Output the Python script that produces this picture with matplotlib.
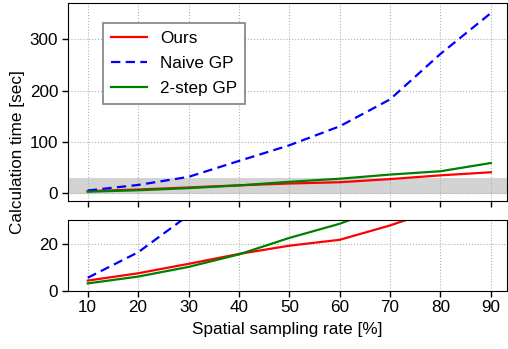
import numpy as np
import matplotlib
matplotlib.use("Agg")
import matplotlib.pyplot as plt

plt.rcParams['font.family'] = ['Liberation Sans', 'DejaVu Sans']
plt.rcParams['font.size'] = 12.3

# sampling rate [%]
rates = [10, 20, 30, 40, 50, 60, 70, 80, 90]
# calculation time [sec]
ours = [4.3, 7.4, 11.4, 15.6, 19.1, 21.6, 27.7, 35.0, 41.0]
naive_gp = [5.5, 16.3, 32.0, 63.0, 93.5, 130.5, 183.0, 271.5, 351.0]
two_step_gp = [3.1, 6.0, 10.1, 15.4, 22.4, 28.4, 36.5, 43.0, 59.0]

fig = plt.figure(figsize=(5.08, 3.49), dpi=100)
ax_top = fig.add_axes([0.134, 0.424, 0.864, 0.5665])
ax_bot = fig.add_axes([0.134, 0.167, 0.864, 0.2026])

for ax in (ax_top, ax_bot):
    ax.plot(rates, ours, color='red', lw=1.6, label='Ours')
    ax.plot(rates, naive_gp, color='blue', lw=1.6, dashes=(4.2, 2.4), label='Naive GP')
    ax.plot(rates, two_step_gp, color='green', lw=1.6, label='2-step GP')
    ax.set_xlim(6.1, 93.2)
    ax.set_xticks(rates)
    ax.grid(True, color='#b0b0b0', linestyle=':', linewidth=0.8)
    ax.tick_params(direction='out', length=4, width=1, pad=3)

# zoomed region highlighted in the upper panel
ax_top.axhspan(-2, 30, color='#d3d3d3', zorder=0, lw=0)
ax_top.set_ylim(-15, 370)
ax_top.set_yticks([0, 100, 200, 300])
ax_top.tick_params(axis='x', labelbottom=False)
leg = ax_top.legend(loc='upper left', bbox_to_anchor=(0.080, 0.899), fancybox=False,
                    edgecolor='#808080', framealpha=1, handlelength=2.1,
                    handletextpad=0.8, borderpad=0.45, labelspacing=0.6,
                    borderaxespad=0)
leg.get_frame().set_linewidth(1.2)

ax_bot.set_ylim(0, 30)
ax_bot.set_yticks([0, 20])
ax_bot.set_xlabel('Spatial sampling rate [%]', labelpad=5)

fig.text(0.0345, 0.563, 'Calculation time [sec]', rotation=90, va='center', ha='center')

fig.savefig('out.png', dpi=100)
